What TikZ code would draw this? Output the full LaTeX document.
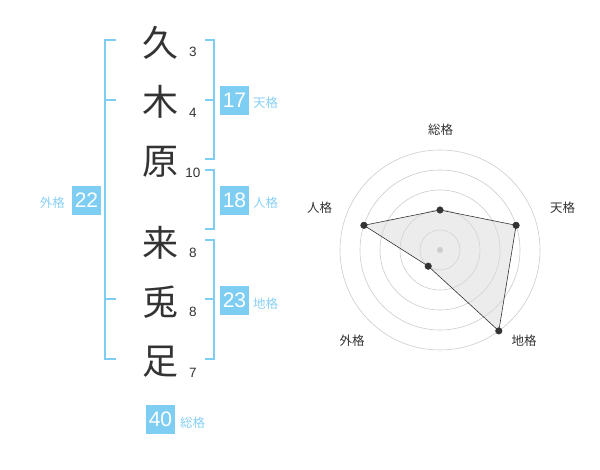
\documentclass[tikz,border=0pt]{standalone}
\usepackage{fontspec}
\setmainfont{Liberation Sans}
\newfontfamily\cjk{Noto Sans CJK JP}
\definecolor{kakublue}{RGB}{126,206,244}
\definecolor{kakulabel}{RGB}{135,208,245}
\definecolor{inkgray}{RGB}{51,51,51}
\tikzset{
	kanji/.style={font=\cjk\fontsize{36}{36}\selectfont, text=inkgray, inner sep=0pt},
	strokes/.style={font=\fontsize{13.5}{13.5}\selectfont, text=inkgray, inner sep=0pt},
	kakubox/.style={fill=kakublue, text=white, minimum size=29pt, inner sep=0pt, font=\fontsize{21}{21}\selectfont},
	kakuname/.style={font=\cjk\fontsize{12.5}{12.5}\selectfont, text=kakulabel, inner sep=0pt},
	bracket/.style={draw=kakublue, line width=1.8pt},
	ring/.style={draw=black!20, line width=0.6pt},
	axisname/.style={font=\cjk\fontsize{12.5}{12.5}\selectfont, text=inkgray, inner sep=0pt},
}
\begin{document}
\begin{tikzpicture}[x=1pt,y=-1pt]
	\useasboundingbox (0,0) rectangle (600,470);
	\draw[bracket] (116,40) -- (105,40) -- (105,359) -- (116,359);
	\draw[bracket] (105,100) -- (116,100);
	\draw[bracket] (105,299) -- (116,299);
	\draw[bracket] (205,40) -- (214,40) -- (214,159) -- (205,159);
	\draw[bracket] (214,100) -- (205,100);
	\draw[bracket] (205,170) -- (214,170) -- (214,229) -- (205,229);
	\draw[bracket] (205,240) -- (214,240) -- (214,359) -- (205,359);
	\draw[bracket] (214,299) -- (205,299);
	\node[kanji] (ku) at (160,43) {久};
	\node[kanji] (ki) at (160,102) {木};
	\node[kanji] (hara) at (160,162) {原};
	\node[kanji] (rai) at (160,243) {来};
	\node[kanji] (usagi) at (160,302) {兎};
	\node[kanji] (ashi) at (160,362) {足};
	\node[strokes] (ku-n) at (193,52) {3};
	\node[strokes] (ki-n) at (193,113) {4};
	\node[strokes] (hara-n) at (193,173) {10};
	\node[strokes] (rai-n) at (193,253) {8};
	\node[strokes] (usagi-n) at (193,312) {8};
	\node[strokes] (ashi-n) at (193,373) {7};
	\node[kakubox] (ten) at (234.5,100.5) {17};
	\node[kakuname, anchor=west] (ten-l) at (253,103) {天格};
	\node[kakubox] (jin) at (234.5,200.5) {18};
	\node[kakuname, anchor=west] (jin-l) at (253,203) {人格};
	\node[kakubox] (chi) at (234.5,300.5) {23};
	\node[kakuname, anchor=west] (chi-l) at (253,304) {地格};
	\node[kakubox] (gai) at (86.5,200.5) {22};
	\node[kakuname, anchor=east] (gai-l) at (65,203) {外格};
	\node[kakubox] (sou) at (160.5,419.5) {40};
	\node[kakuname, anchor=west] (sou-l) at (180,423) {総格};
	\coordinate (hub) at (440,250);
	\draw[ring] (hub) circle (20);
	\draw[ring] (hub) circle (40);
	\draw[ring] (hub) circle (60);
	\draw[ring] (hub) circle (80);
	\draw[ring] (hub) circle (100);
	\fill[black!25] (hub) circle (3);
	\coordinate (p-sou) at (440,210);
	\coordinate (p-ten) at (516.1,225.3);
	\coordinate (p-chi) at (498.8,330.9);
	\coordinate (p-gai) at (428.2,266.2);
	\coordinate (p-jin) at (363.9,225.3);
	\filldraw[fill=black!15, fill opacity=0.5, draw=inkgray, line width=0.6pt] (p-sou) -- (p-ten) -- (p-chi) -- (p-gai) -- (p-jin) -- cycle;
	\filldraw[fill=inkgray, draw=inkgray] (p-sou) circle (3.3);
	\filldraw[fill=inkgray, draw=inkgray] (p-ten) circle (3.3);
	\filldraw[fill=inkgray, draw=inkgray] (p-chi) circle (3.3);
	\filldraw[fill=inkgray, draw=inkgray] (p-gai) circle (3.3);
	\filldraw[fill=inkgray, draw=inkgray] (p-jin) circle (3.3);
	\node[axisname] (a-sou) at (440.5,130) {総格};
	\node[axisname] (a-ten) at (562.5,208) {天格};
	\node[axisname] (a-chi) at (524,341) {地格};
	\node[axisname] (a-gai) at (352,341) {外格};
	\node[axisname] (a-jin) at (319.5,208) {人格};
\end{tikzpicture}
\end{document}
